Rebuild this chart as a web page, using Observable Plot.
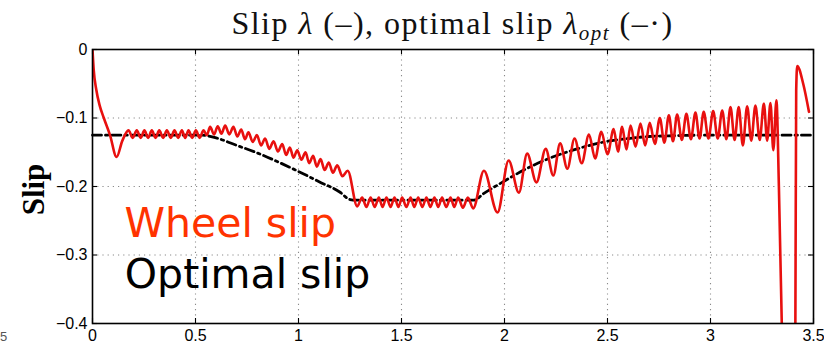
<!DOCTYPE html>
<html>
<head>
<meta charset="utf-8">
<script src="https://cdn.jsdelivr.net/npm/d3@7"></script>
<script src="https://cdn.jsdelivr.net/npm/@observablehq/plot@0.6"></script>
<style>
  html, body { margin: 0; padding: 0; background: white; }
  #wrap { position: relative; width: 824px; height: 347px; overflow: hidden; background: white; }
  #plot { position: absolute; left: 0; top: 0; }
  #title { position: absolute; left: 92px; width: 721px; top: 8px; text-align: center;
    font-family: "Liberation Serif", "Times New Roman", Times, serif; font-size: 32px; line-height: 30px; color: #111; white-space: nowrap; }
  #title span.t { display: inline-block; }
  #title sub { font-size: 21px; font-style: italic; vertical-align: -6px; line-height: 0; }
  #cut { position: absolute; left: 0px; top: 329px; font-family: "Liberation Sans", Arial, sans-serif; font-size: 13px; color: #555; }
</style>
</head>
<body>
<div id="wrap">
  <div id="plot"></div>
  <div id="title"><span class="t" id="tt">Slip <i>λ</i> (–), optimal slip <i>λ</i><sub>opt</sub> (–·)</span></div>
  <div id="cut">5</div>
</div>
<script>
// ---- Data ----
const xTicks = [0, 0.5, 1, 1.5, 2, 2.5, 3, 3.5];
const yTicks = [0, -0.1, -0.2, -0.3, -0.4];

// Optimal slip (dash-dot black)
const optTime = [0, 0.53, 0.6, 0.7, 0.8, 0.9, 1.0, 1.1, 1.2, 1.25, 1.28, 1.85, 1.9, 2.0, 2.1, 2.2, 2.3, 2.4, 2.5, 2.6, 2.7, 2.8, 3.0, 3.5];
const optSlip = [-0.125, -0.125, -0.129, -0.140, -0.151, -0.164, -0.178, -0.193, -0.208, -0.219, -0.22, -0.22, -0.21, -0.192, -0.175, -0.161, -0.150, -0.141, -0.134, -0.130, -0.127, -0.126, -0.125, -0.125];

// Wheel slip (red), peaks and troughs
const wheelTime = [
  0, 0.006, 0.018, 0.035, 0.055, 0.085, 0.117, 0.145, 0.175,
  0.195, 0.215, 0.234, 0.252, 0.270, 0.288, 0.306, 0.324, 0.343, 0.361, 0.380, 0.398, 0.416, 0.434, 0.450, 0.466, 0.484, 0.502, 0.520, 0.539,
  0.555, 0.571, 0.590, 0.608, 0.626, 0.644, 0.664, 0.684, 0.703, 0.722, 0.740, 0.757, 0.778, 0.798, 0.818, 0.838, 0.858, 0.879, 0.900, 0.921, 0.940, 0.958, 0.976, 0.994, 1.014, 1.034, 1.052, 1.071, 1.089, 1.107, 1.127, 1.147, 1.167, 1.188, 1.213, 1.239, 1.285,
  1.309, 1.330, 1.350, 1.370, 1.390, 1.408, 1.427, 1.447, 1.466, 1.485, 1.503, 1.524, 1.544, 1.562, 1.581, 1.601, 1.621, 1.640, 1.660, 1.678, 1.697, 1.717, 1.738, 1.756, 1.775, 1.798, 1.822, 1.848,
  1.90, 1.966, 2.02, 2.07, 2.11, 2.155, 2.20, 2.237, 2.27, 2.305, 2.34, 2.375, 2.41, 2.44, 2.47, 2.50, 2.53, 2.551, 2.571, 2.592, 2.612, 2.636, 2.660, 2.683, 2.705, 2.730, 2.754, 2.776, 2.798, 2.818, 2.838, 2.861, 2.883, 2.905, 2.927, 2.947, 2.967, 2.990, 3.013, 3.035, 3.057, 3.077, 3.097, 3.117, 3.137, 3.157, 3.178, 3.198, 3.218, 3.239, 3.259, 3.275, 3.291, 3.305, 3.320,
  3.332, 3.346, 3.36, 3.40, 3.412, 3.416, 3.421, 3.45, 3.478
];
const wheelSlip = [
  0, -0.03, -0.058, -0.082, -0.100, -0.125, -0.157, -0.133, -0.118,
  -0.129, -0.118, -0.129, -0.118, -0.129, -0.118, -0.129, -0.118, -0.129, -0.118, -0.129, -0.118, -0.129, -0.118, -0.129, -0.118, -0.129, -0.118, -0.129, -0.118,
  -0.125, -0.113, -0.124, -0.112, -0.123, -0.111, -0.124, -0.113, -0.127, -0.117, -0.131, -0.121, -0.135, -0.125, -0.140, -0.130, -0.145, -0.134, -0.149, -0.138, -0.154, -0.143, -0.158, -0.147, -0.161, -0.150, -0.166, -0.155, -0.171, -0.160, -0.176, -0.165, -0.180, -0.169, -0.185, -0.177, -0.229,
  -0.216, -0.230, -0.216, -0.230, -0.216, -0.230, -0.216, -0.230, -0.216, -0.230, -0.216, -0.230, -0.216, -0.230, -0.216, -0.230, -0.216, -0.230, -0.216, -0.230, -0.216, -0.230, -0.216, -0.230, -0.216, -0.231, -0.216, -0.232,
  -0.177, -0.238, -0.162, -0.209, -0.152, -0.194, -0.145, -0.184, -0.137, -0.174, -0.130, -0.166, -0.124, -0.159, -0.120, -0.153, -0.116, -0.149, -0.113, -0.146, -0.111, -0.142, -0.108, -0.140, -0.107, -0.138, -0.100, -0.136, -0.096, -0.134, -0.095, -0.132, -0.094, -0.131, -0.092, -0.130, -0.091, -0.130, -0.090, -0.130, -0.089, -0.131, -0.084, -0.132, -0.084, -0.140, -0.083, -0.133, -0.082, -0.132, -0.079, -0.133, -0.078, -0.147, -0.074,
  -0.2, -0.4, -0.7, -0.7, -0.4, -0.06, -0.024, -0.05, -0.091
];

// Text annotations in the plot
const annotText = ["Wheel slip", "Optimal slip"];
const annotTime = [0.155, 0.157];
const annotSlip = [-0.2734, -0.348];

// ---- Build tables ----
const optimal = optTime.map((t, i) => ({t, s: optSlip[i]}));
const wheel = wheelTime.map((t, i) => ({t, s: wheelSlip[i]}));
const annots = annotText.map((label, i) => ({label, t: annotTime[i], s: annotSlip[i]}));

const W = 824, H = 347, mL = 92, mR = 11, mT = 49, mB = 24;
const innerW = W - mL - mR, innerH = H - mT - mB, tick = 5;
const innerX = xTicks.slice(1, -1), innerY = yTicks.slice(1, -1);
const fmt = d3.format("~g");
const sansFont = "Liberation Sans, Arial, Helvetica, sans-serif";
const serifFont = "Liberation Serif, Times New Roman, Times, serif";

const chart = Plot.plot({
  width: W, height: H,
  marginLeft: mL, marginRight: mR, marginTop: mT, marginBottom: mB,
  style: {fontFamily: sansFont, fontSize: "16px", background: "white", color: "black", overflow: "visible"},
  x: {domain: [0, 3.5]},
  y: {domain: [-0.4, 0]},
  marks: [
    Plot.ruleX(innerX, {x: d => d, stroke: "#8a8a8a", strokeWidth: 1.1, strokeDasharray: "1.2,4"}),
    Plot.ruleY(innerY, {y: d => d, stroke: "#8a8a8a", strokeWidth: 1.1, strokeDasharray: "1.2,4"}),
    Plot.line(optimal, {x: "t", y: "s", stroke: "black", strokeWidth: 2.8, strokeDasharray: "9,4,2.4,4", curve: "monotone-x"}),
    Plot.line(wheel, {x: "t", y: "s", stroke: "#e8100f", strokeWidth: 2.6, curve: "monotone-x", clip: true}),
    // inward ticks on all four sides
    Plot.tickX(xTicks, {x: d => d, insetTop: innerH - tick, stroke: "black", strokeWidth: 1.1}),
    Plot.tickX(xTicks, {x: d => d, insetBottom: innerH - tick, stroke: "black", strokeWidth: 1.1}),
    Plot.tickY(yTicks, {y: d => d, insetRight: innerW - tick, stroke: "black", strokeWidth: 1.1}),
    Plot.tickY(yTicks, {y: d => d, insetLeft: innerW - tick, stroke: "black", strokeWidth: 1.1}),
    Plot.frame({stroke: "black", strokeWidth: 1.6}),
    Plot.axisX({ticks: xTicks, tickSize: 0, tickPadding: 6, label: null, fontSize: 16, tickFormat: fmt, fontFamily: sansFont}),
    Plot.axisY({ticks: yTicks, tickSize: 0, tickPadding: 5, label: null, fontSize: 16, tickFormat: fmt, fontFamily: sansFont}),
    Plot.text(["Slip"], {frameAnchor: "left", rotate: -90, dx: -49, dy: 3, lineAnchor: "bottom", textAnchor: "middle",
      fontSize: 31, fontFamily: serifFont, fontWeight: "bold", fill: "black"}),
    Plot.text(annots.slice(0, 1), {x: "t", y: "s", text: "label", textAnchor: "start", lineAnchor: "bottom",
      fontSize: 41, fontFamily: "DejaVu Sans, sans-serif", fill: "#ff3300"}),
    Plot.text(annots.slice(1), {x: "t", y: "s", text: "label", textAnchor: "start", lineAnchor: "bottom",
      fontSize: 41, fontFamily: "DejaVu Sans, sans-serif", fill: "black"})
  ]
});
document.getElementById("plot").appendChild(chart);

// widen the title's letter spacing so that it spans the reference's width (~442px)
const tt = document.getElementById("tt");
const w0 = tt.getBoundingClientRect().width;
const nChars = tt.textContent.length;
const ls = Math.max(0, (442 - w0) / nChars);
tt.style.letterSpacing = ls.toFixed(2) + "px";
</script>
</body>
</html>
